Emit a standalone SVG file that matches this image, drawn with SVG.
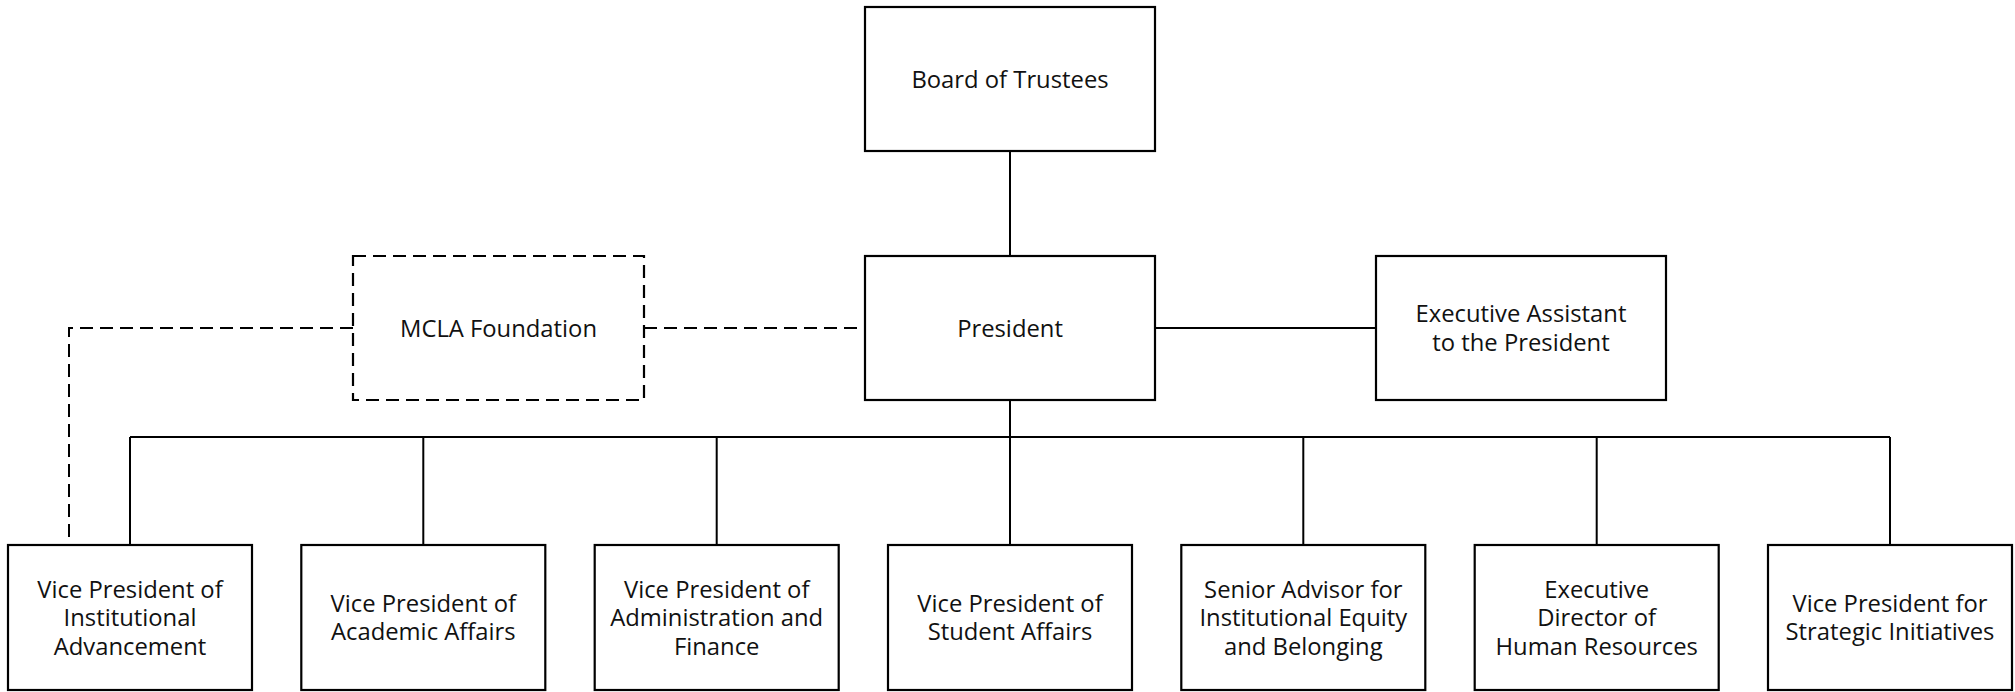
<svg xmlns="http://www.w3.org/2000/svg" width="2015" height="692" viewBox="0 0 2015 692">
<style>
.box{fill:#fff;stroke:#000;stroke-width:2.2}
.dbox{fill:#fff;stroke:#000;stroke-width:2.2;stroke-dasharray:13 7}
.ln{fill:none;stroke:#000;stroke-width:2}
.dl{fill:none;stroke:#000;stroke-width:2;stroke-dasharray:13 7}
text{font-family:"Open Sans","Liberation Sans",sans-serif;font-size:23.8px;fill:#111;text-anchor:middle}
</style>
<rect width="2015" height="692" fill="#fff"/>
<g id="connectors">
<path class="ln" d="M1010 151V256"/>
<path class="ln" d="M1155 328H1376"/>
<path class="ln" d="M1010 400V545"/>
<path class="ln" d="M130 437H1890"/>
<path class="ln" d="M130 437V545M423.3 437V545M716.7 437V545M1303.3 437V545M1596.7 437V545M1890 437V545"/>
<path class="dl" d="M644 328H865"/>
<path class="dl" d="M353 328H69V538"/>
</g>
<g id="board"><rect class="box" x="865" y="7" width="290" height="144"/><text x="1010" y="87.5">Board of Trustees</text></g>
<g id="president"><rect class="box" x="865" y="256" width="290" height="144"/><text x="1010" y="336.5">President</text></g>
<g id="foundation"><rect class="dbox" x="353" y="256" width="291" height="144"/><text x="498.5" y="336.5">MCLA Foundation</text></g>
<g id="exec-assistant"><rect class="box" x="1376" y="256" width="290" height="144"/><text x="1521" y="322">Executive Assistant</text><text x="1521" y="350.5">to the President</text></g>
<g id="vp-advancement"><rect class="box" x="8" y="545" width="244" height="145"/><text x="130" y="597.5">Vice President of</text><text x="130" y="626">Institutional</text><text x="130" y="654.5">Advancement</text></g>
<g id="vp-academic"><rect class="box" x="301.3" y="545" width="244" height="145"/><text x="423.3" y="611.7">Vice President of</text><text x="423.3" y="640.2">Academic Affairs</text></g>
<g id="vp-admin"><rect class="box" x="594.7" y="545" width="244" height="145"/><text x="716.7" y="597.5">Vice President of</text><text x="716.7" y="626">Administration and</text><text x="716.7" y="654.5">Finance</text></g>
<g id="vp-student"><rect class="box" x="888" y="545" width="244" height="145"/><text x="1010" y="611.7">Vice President of</text><text x="1010" y="640.2">Student Affairs</text></g>
<g id="senior-advisor"><rect class="box" x="1181.3" y="545" width="244" height="145"/><text x="1303.3" y="597.5">Senior Advisor for</text><text x="1303.3" y="626">Institutional Equity</text><text x="1303.3" y="654.5">and Belonging</text></g>
<g id="hr-director"><rect class="box" x="1474.7" y="545" width="244" height="145"/><text x="1596.7" y="597.5">Executive</text><text x="1596.7" y="626">Director of</text><text x="1596.7" y="654.5">Human Resources</text></g>
<g id="vp-strategic"><rect class="box" x="1768" y="545" width="244" height="145"/><text x="1890" y="611.7">Vice President for</text><text x="1890" y="640.2">Strategic Initiatives</text></g>
</svg>
